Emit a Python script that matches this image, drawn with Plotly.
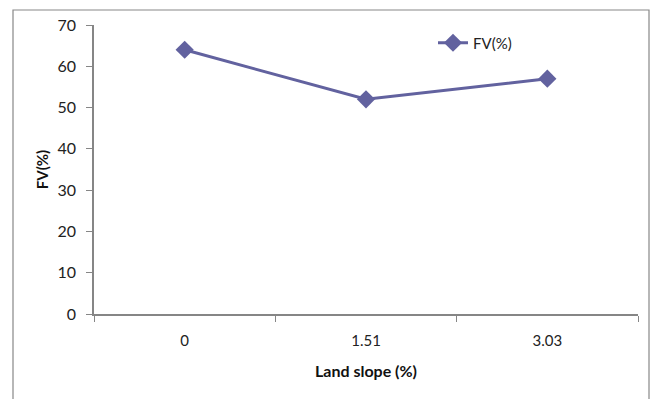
import plotly.graph_objects as go

categories = ["0", "1.51", "3.03"]
fv_values = [64, 52, 57]
series_name = "FV(%)"

W, H = 656, 399
ml, mr, mt, mb = 94, 18, 25, 85
pw, ph = W - ml - mr, H - mt - mb

def px_x(px):
    return (px - ml) / pw

def px_y(py):
    return (H - mb - py) / ph

font_family = "Lato, 'Open Sans', sans-serif"
line_color = "#62629F"
axis_color = "#868686"

fig = go.Figure()
fig.add_trace(go.Scatter(
    x=categories, y=fv_values, name=series_name,
    mode="lines+markers",
    line=dict(color=line_color, width=3),
    marker=dict(symbol="diamond", size=14, color=line_color),
))

fig.update_layout(
    width=W, height=H,
    margin=dict(l=ml, r=mr, t=mt, b=mb),
    paper_bgcolor="white", plot_bgcolor="white",
    font=dict(family=font_family, size=15, color="#222"),
    showlegend=True,
    legend=dict(x=px_x(433), y=px_y(43), xanchor="left", yanchor="middle",
                bgcolor="rgba(0,0,0,0)", font=dict(size=15, color="#222")),
    xaxis=dict(
        type="category", range=[-0.5, 2.5],
        showline=True, linecolor=axis_color, linewidth=1.5,
        ticks="outside", tickson="boundaries", ticklen=6, tickcolor=axis_color,
        showgrid=False, zeroline=False, ticklabelstandoff=12,
        title=dict(text="<b>Land slope (%)</b>", font=dict(size=16, color="#111"), standoff=18),
        tickfont=dict(size=15, color="#222"),
    ),
    yaxis=dict(
        range=[0, 70], dtick=10,
        showline=True, linecolor=axis_color, linewidth=1.5,
        ticks="outside", ticklen=6, tickcolor=axis_color,
        showgrid=False, zeroline=False, ticklabelstandoff=7,
        title=dict(text="<b>FV(%)</b>", font=dict(size=15, color="#111"), standoff=5),
        tickfont=dict(size=16, color="#222"),
    ),
    shapes=[dict(type="rect", xref="paper", yref="paper",
                 x0=px_x(13), x1=px_x(649), y0=px_y(420), y1=px_y(10),
                 line=dict(color="#888888", width=1.2), fillcolor="rgba(0,0,0,0)", layer="below")],
)

fig.write_html("out.html")
